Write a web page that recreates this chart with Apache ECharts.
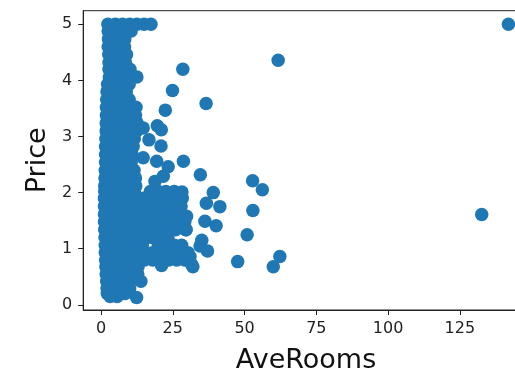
<!DOCTYPE html>
<html>
<head>
<meta charset="utf-8">
<script src="https://cdn.jsdelivr.net/npm/echarts@6/dist/echarts.min.js"></script>
<style>
html,body{margin:0;padding:0;overflow:hidden;background:#fff;width:515px;height:379px;}
#chart{width:560px;height:379px;}
</style>
</head>
<body>
<div id="chart"></div>
<script>
// Tick labels
const xTicks = [0, 25, 50, 75, 100, 125];
const yTicks = [0, 1, 2, 3, 4, 5];

// Dense cloud, read row by row: one Price level per row and the AveRooms values on it
const rowPrice = [5.00, 4.88, 4.74, 4.60, 4.46, 4.32, 4.20, 4.06, 3.93, 3.80, 3.66, 3.52, 3.38, 3.24, 3.10, 2.96, 2.82, 2.68, 2.54, 2.40, 2.26, 2.12, 2.02, 1.90, 1.76, 1.62, 1.48, 1.34, 1.20, 1.06, 0.93, 0.80, 0.68, 0.55, 0.42, 0.30, 0.20, 0.15];
const rowRooms = [
  [2.4, 5.0, 7.5, 10.0, 12.5, 15.0, 17.4],
  [2.5, 5.2, 7.8, 10.5],
  [2.6, 5.5, 8.3],
  [2.5, 5.3, 8.2],
  [2.7, 5.6, 8.9],
  [2.8, 5.8, 8.5],
  [2.8, 5.7, 8.6, 10.1],
  [2.9, 5.4, 8.2, 10.6, 12.5],
  [2.3, 5.1, 7.9, 9.8],
  [2.1, 4.9, 7.6, 8.8],
  [2.0, 4.8, 7.5, 9.8],
  [1.9, 4.6, 7.4, 10.1, 12.2],
  [1.9, 4.7, 7.7, 10.3, 12.0],
  [1.8, 4.5, 7.2, 10.0, 12.6],
  [1.8, 4.4, 7.0, 9.8, 12.4],
  [1.7, 4.3, 7.1, 9.7, 11.6],
  [1.6, 4.2, 6.9, 9.5, 11.2],
  [1.6, 4.1, 6.8, 9.2, 10.8],
  [1.6, 4.0, 6.6, 9.1, 10.5],
  [1.5, 4.1, 6.7, 9.4, 11.5],
  [1.4, 3.9, 6.5, 9.3, 12.0],
  [1.3, 3.8, 6.4, 9.2, 12.1],
  [1.3, 3.8, 6.3, 9.1, 11.6, 17.2, 20.0, 22.6, 25.5],
  [1.2, 3.7, 6.3, 9.0, 11.8, 14.6, 17.5, 20.4, 23.3, 26.0, 28.3],
  [1.2, 3.6, 6.2, 9.1, 12.0, 14.9, 17.8, 20.7, 23.6, 26.4, 27.9],
  [1.2, 3.6, 6.1, 8.9, 11.7, 14.5, 17.3, 20.1, 22.9, 25.7, 28.0],
  [1.2, 3.7, 6.3, 9.0, 11.8, 14.7, 17.6, 20.5, 23.4, 26.3, 29.2],
  [1.3, 3.8, 6.4, 9.2, 12.0, 14.8, 17.6, 20.4, 23.2, 26.0, 29.6],
  [1.4, 3.9, 6.5, 9.3, 12.1, 14.9, 17.7, 20.5, 23.3],
  [1.5, 4.0, 6.6, 9.4, 12.2, 14.4, 20.0, 22.8, 25.6, 28.1],
  [1.5, 4.0, 6.7, 9.5, 12.3, 15.1, 17.9, 20.7, 23.5, 26.3, 29.0, 30.3],
  [1.6, 4.1, 6.8, 9.6, 12.4, 15.2, 18.0, 20.8, 23.6, 26.4, 29.2, 30.8],
  [1.7, 4.2, 6.9, 9.7, 12.9],
  [1.8, 4.3, 7.0, 9.8, 12.8],
  [2.0, 4.5, 7.2, 10.0, 13.9],
  [2.1, 4.6, 7.3, 10.0],
  [2.2, 4.8, 7.5, 8.4],
  [3.2, 5.6]
];

// Scattered points outside the dense cloud
const outRooms = [141.9, 132.6, 61.7, 28.5, 24.9, 22.4, 36.6, 14.7, 19.6, 21.0, 16.7, 20.9, 14.7, 19.4, 23.4, 28.7, 34.6, 52.8, 56.2, 39.1, 28.2, 36.7, 41.4, 52.9, 36.2, 40.1, 50.9, 35.1, 34.5, 37.1, 47.6, 32.0, 31.6, 62.3, 60.0, 31.0, 29.8, 29.6, 21.1, 12.4, 18.8, 21.7];
const outPrice = [5.00, 1.61, 4.36, 4.20, 3.82, 3.47, 3.59, 3.15, 3.19, 3.12, 2.94, 2.83, 2.62, 2.56, 2.46, 2.56, 2.32, 2.21, 2.05, 2.00, 2.01, 1.81, 1.75, 1.68, 1.49, 1.41, 1.25, 1.15, 1.05, 0.96, 0.77, 0.68, 0.72, 0.86, 0.68, 0.86, 1.58, 1.34, 0.70, 0.13, 2.20, 2.29];

const points = [];
rowPrice.forEach((p, i) => rowRooms[i].forEach(r => points.push([r, p])));
outRooms.forEach((r, i) => points.push([r, outPrice[i]]));

const FONT = 'DejaVu Sans';
const chart = echarts.init(document.getElementById('chart'), null, {renderer: 'canvas'});
chart.setOption({
  animation: false,
  backgroundColor: '#fff',
  grid: {
    show: true, borderColor: '#222', borderWidth: 1,
    left: 83.2, right: 31.2, top: 10.7, bottom: 68.5
  },
  xAxis: {
    type: 'value', min: -6.2, max: 149,
    axisLine: {show: true, onZero: false, lineStyle: {color: '#222', width: 1}},
    axisTick: {show: true, length: 5, customValues: xTicks, lineStyle: {color: '#222', width: 1}},
    axisLabel: {customValues: xTicks, fontSize: 16, color: '#222', margin: 11, fontFamily: FONT},
    splitLine: {show: false},
    name: 'AveRooms', nameLocation: 'middle', nameGap: 37,
    nameTextStyle: {fontSize: 27, color: '#111', fontFamily: FONT}
  },
  yAxis: {
    type: 'value', min: -0.0925, max: 5.2425,
    axisLine: {show: true, onZero: false, lineStyle: {color: '#222', width: 1}},
    axisTick: {show: true, length: 5, customValues: yTicks, lineStyle: {color: '#222', width: 1}},
    axisLabel: {customValues: yTicks, fontSize: 16, color: '#222', margin: 11, fontFamily: FONT},
    splitLine: {show: false},
    name: 'Price', nameLocation: 'middle', nameGap: 32, nameRotate: 90,
    nameTextStyle: {fontSize: 27, color: '#111', fontFamily: FONT}
  },
  series: [{
    type: 'scatter',
    data: points,
    symbol: 'circle',
    symbolSize: 13.5,
    itemStyle: {color: '#1f77b4', opacity: 1},
    emphasis: {disabled: true}
  }]
});
</script>
</body>
</html>
